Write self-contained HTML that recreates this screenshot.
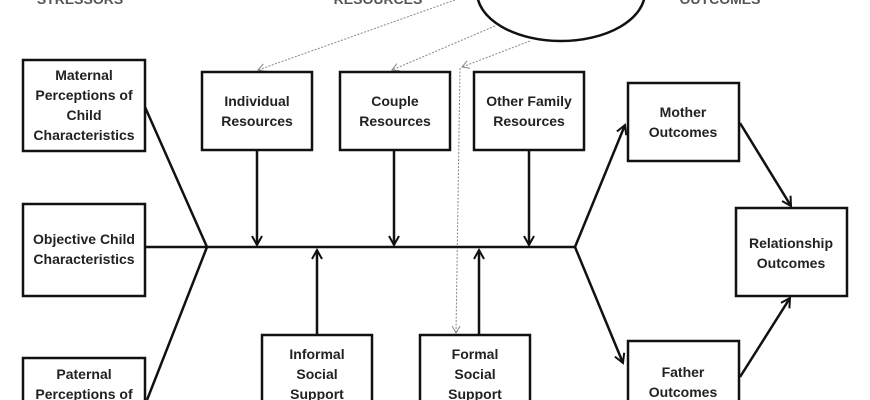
<!DOCTYPE html>
<html><head><style>
body{margin:0;background:#fff;}
svg{display:block;}
text{font-family:"Liberation Sans",Arial,sans-serif;font-weight:bold;font-size:14px;fill:#222;text-anchor:middle;}
</style></head><body>
<svg width="870" height="400" viewBox="0 0 870 400" xmlns="http://www.w3.org/2000/svg">
<defs>
<marker id="a" markerWidth="12" markerHeight="12" refX="10" refY="6" orient="auto" markerUnits="userSpaceOnUse">
<path d="M1,1 L10,6 L1,11" fill="none" stroke="#111" stroke-width="2"/></marker>
<marker id="d" markerWidth="10" markerHeight="10" refX="8" refY="5" orient="auto" markerUnits="userSpaceOnUse">
<path d="M1,1 L8,5 L1,9" fill="none" stroke="#888" stroke-width="1"/></marker>
</defs>
<g fill="#ccc" style="font-size:13px">
<text x="80" y="4" style="fill:#555">STRESSORS</text>
<text x="378" y="4" style="fill:#555">RESOURCES</text>
<text x="720" y="4" style="fill:#555">OUTCOMES</text>
</g>
<ellipse cx="561" cy="-8" rx="84" ry="49" fill="#fff" stroke="#111" stroke-width="2.5"/>
<g stroke="#888" stroke-width="1" stroke-dasharray="2,1.5" fill="none">
<line x1="455" y1="0" x2="258" y2="70" marker-end="url(#d)"/>
<line x1="495" y1="26" x2="392" y2="70" marker-end="url(#d)"/>
<line x1="530" y1="41" x2="462" y2="67" marker-end="url(#d)"/>
<line x1="460" y1="68" x2="456" y2="333" marker-end="url(#d)"/>
</g>
<g fill="#fff" stroke="#111" stroke-width="2.5">
<rect x="23" y="60" width="122" height="91"/>
<rect x="23" y="204" width="122" height="92"/>
<rect x="23" y="358" width="122" height="60"/>
<rect x="202" y="72" width="110" height="78"/>
<rect x="340" y="72" width="110" height="78"/>
<rect x="474" y="72" width="110" height="78"/>
<rect x="628" y="83" width="111" height="78"/>
<rect x="736" y="208" width="111" height="88"/>
<rect x="628" y="341" width="111" height="70"/>
<rect x="262" y="335" width="110" height="80"/>
<rect x="420" y="335" width="110" height="80"/>
</g>
<g stroke="#111" stroke-width="2.5" fill="none">
<line x1="145" y1="247" x2="575" y2="247"/>
<polyline points="145,107 207,247 147,400"/>
<line x1="575" y1="247" x2="625" y2="125" marker-end="url(#a)"/>
<line x1="575" y1="247" x2="623" y2="363" marker-end="url(#a)"/>
<line x1="740" y1="123" x2="791" y2="206" marker-end="url(#a)"/>
<line x1="740" y1="377" x2="790" y2="298" marker-end="url(#a)"/>
<line x1="257" y1="150" x2="257" y2="245" marker-end="url(#a)"/>
<line x1="394" y1="150" x2="394" y2="245" marker-end="url(#a)"/>
<line x1="529" y1="150" x2="529" y2="245" marker-end="url(#a)"/>
<line x1="317" y1="335" x2="317" y2="250" marker-end="url(#a)"/>
<line x1="479" y1="335" x2="479" y2="250" marker-end="url(#a)"/>
</g>
<text x="84" y="80">Maternal</text>
<text x="84" y="100">Perceptions of</text>
<text x="84" y="120">Child</text>
<text x="84" y="140">Characteristics</text>
<text x="84" y="244">Objective Child</text>
<text x="84" y="264">Characteristics</text>
<text x="84" y="379">Paternal</text>
<text x="84" y="399">Perceptions of</text>
<text x="257" y="106">Individual</text>
<text x="257" y="126">Resources</text>
<text x="395" y="106">Couple</text>
<text x="395" y="126">Resources</text>
<text x="529" y="106">Other Family</text>
<text x="529" y="126">Resources</text>
<text x="683" y="117">Mother</text>
<text x="683" y="137">Outcomes</text>
<text x="791" y="248">Relationship</text>
<text x="791" y="268">Outcomes</text>
<text x="683" y="377">Father</text>
<text x="683" y="397">Outcomes</text>
<text x="317" y="359">Informal</text>
<text x="317" y="379">Social</text>
<text x="317" y="399">Support</text>
<text x="475" y="359">Formal</text>
<text x="475" y="379">Social</text>
<text x="475" y="399">Support</text>
</svg>
</body></html>
